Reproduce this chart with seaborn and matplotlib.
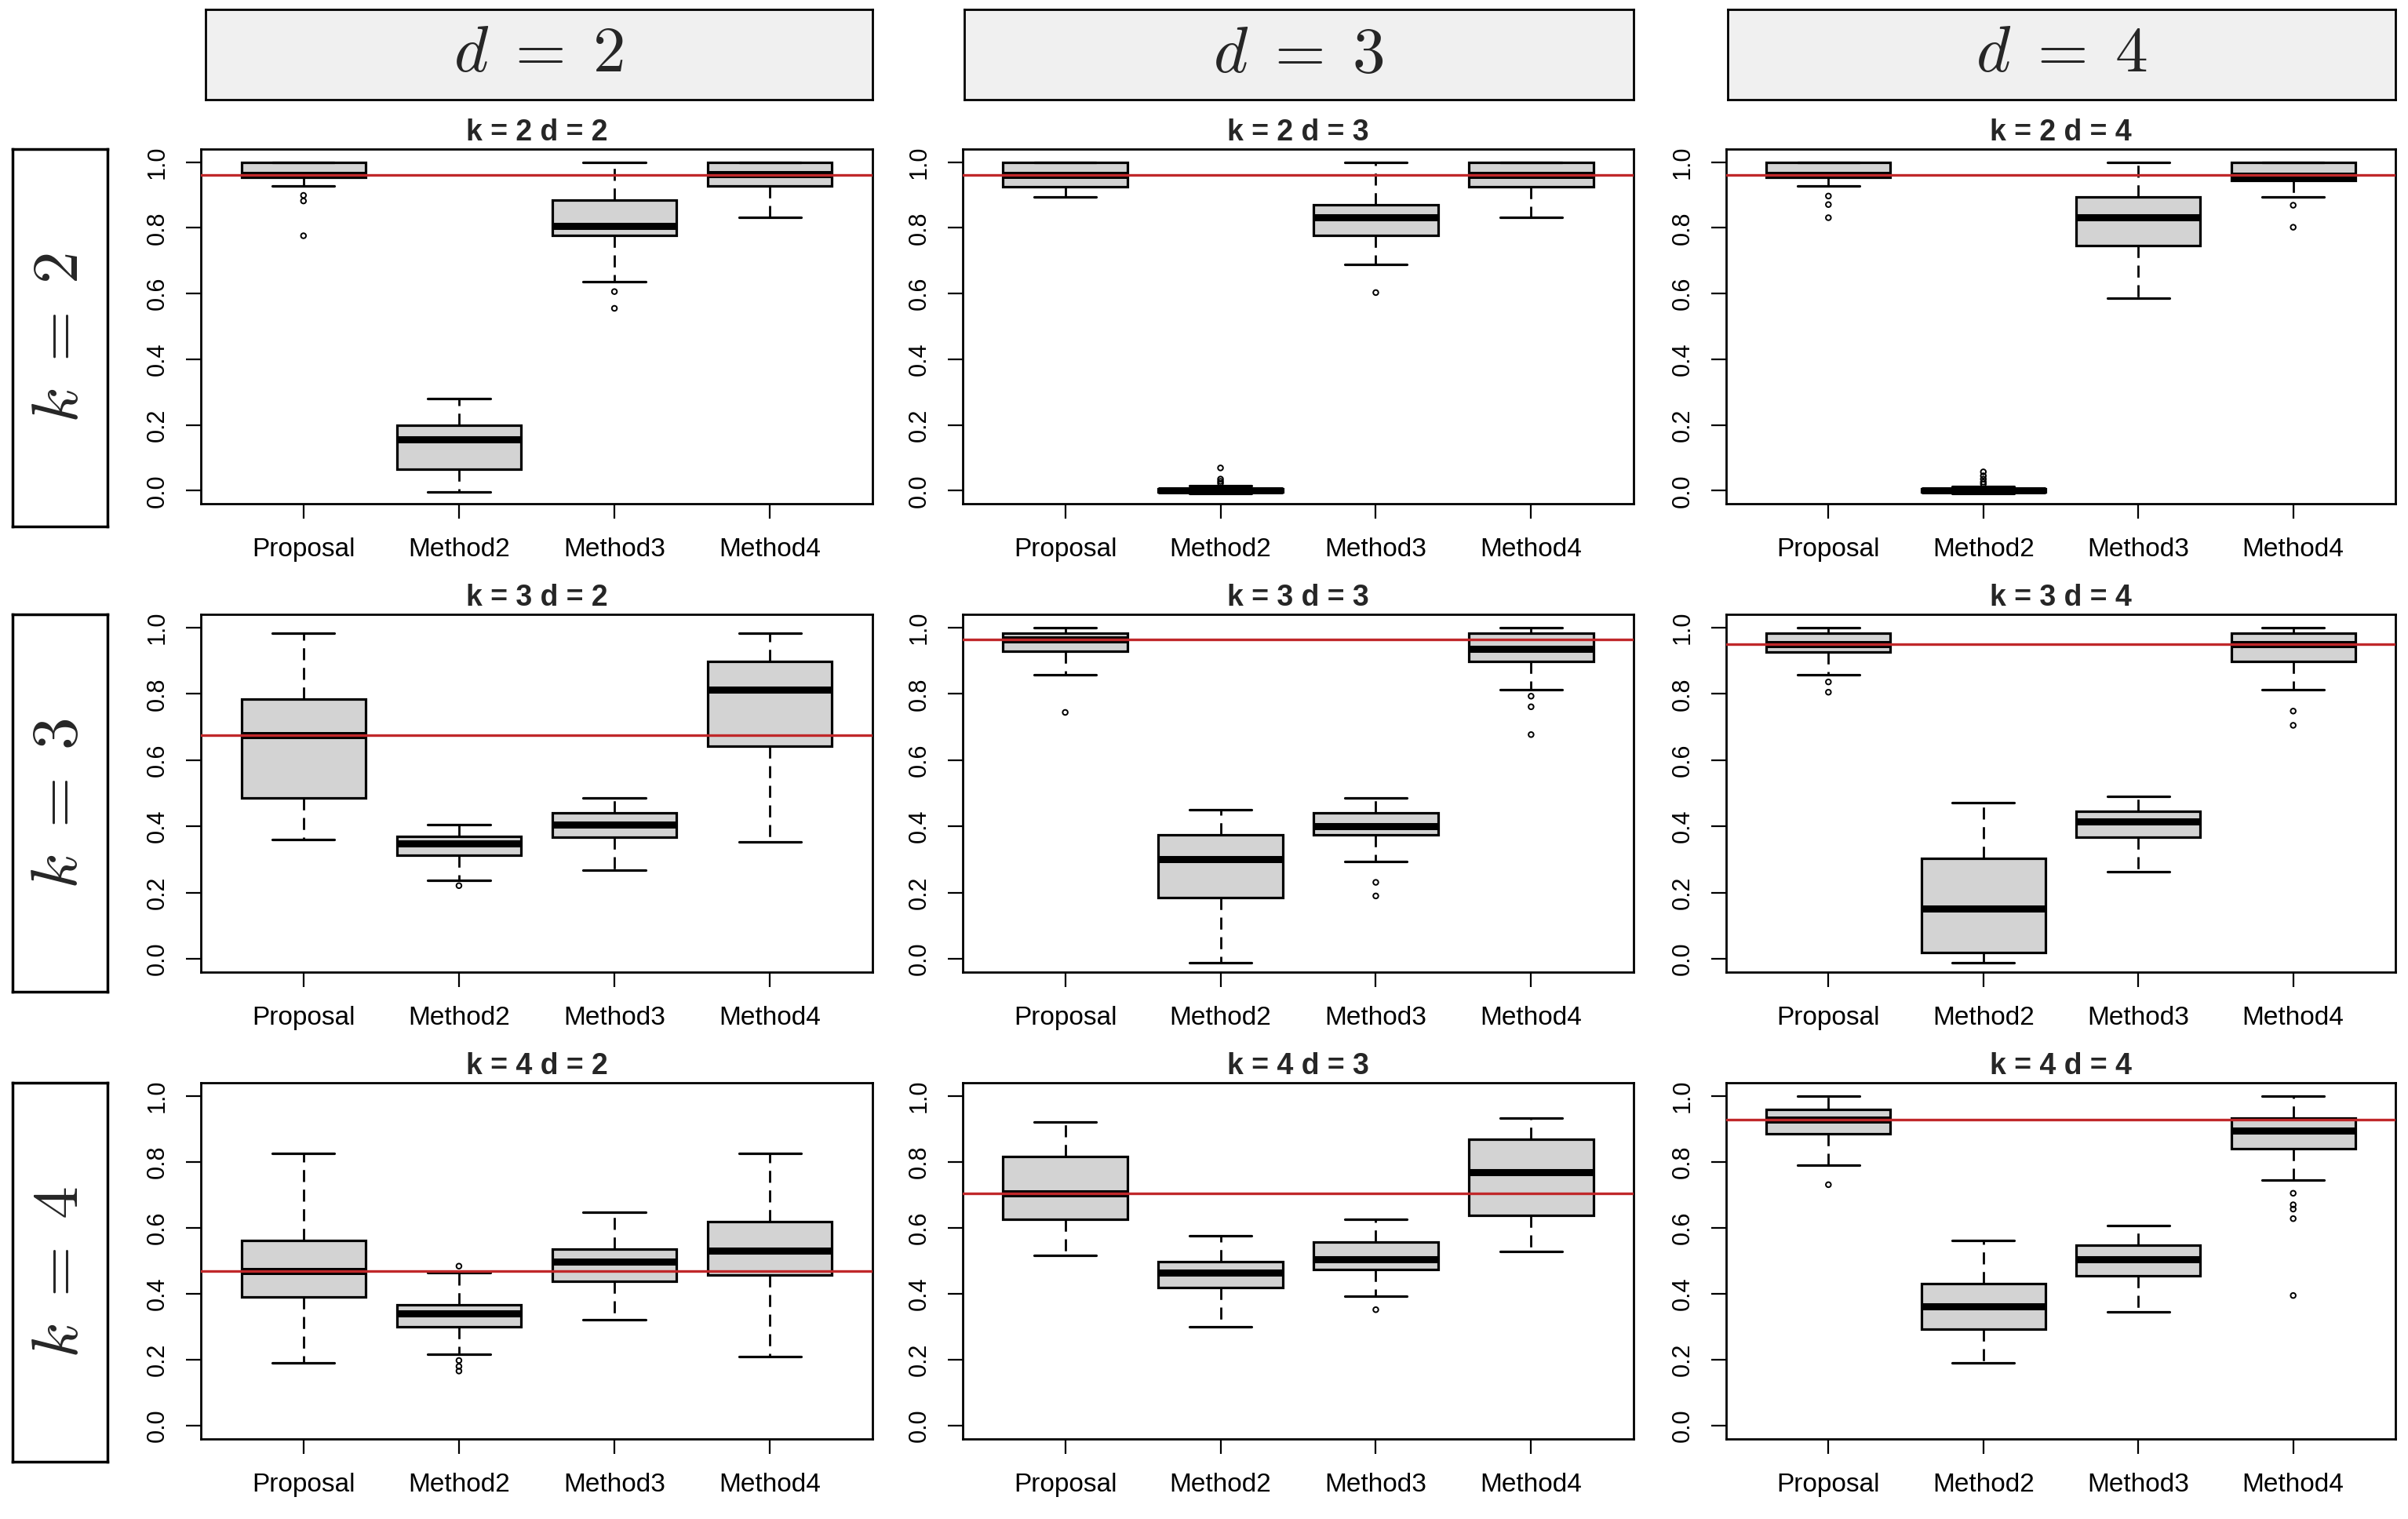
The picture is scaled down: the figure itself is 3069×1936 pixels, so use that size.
import numpy as np
import pandas as pd
import matplotlib
matplotlib.use("Agg")
import matplotlib.pyplot as plt
import seaborn as sns

# ---------------- data ----------------
METHODS = ["Proposal", "Method2", "Method3", "Method4"]
K_VALUES = [2, 3, 4]
D_VALUES = [2, 3, 4]
Y_TICKS = [0.0, 0.2, 0.4, 0.6, 0.8, 1.0]

# panel order: (k2,d2) (k2,d3) (k2,d4) (k3,d2) (k3,d3) (k3,d4) (k4,d2) (k4,d3) (k4,d4)
WHISKER_LO = [
    [0.928, -0.005, 0.636, 0.831],
    [0.895, -0.008, 0.688, 0.831],
    [0.928, -0.008, 0.585, 0.895],
    [0.361, 0.237, 0.269, 0.353],
    [0.857, -0.011, 0.295, 0.812],
    [0.857, -0.011, 0.262, 0.812],
    [0.191, 0.216, 0.321, 0.210],
    [0.516, 0.301, 0.393, 0.528],
    [0.790, 0.191, 0.346, 0.745],
]
Q1 = [
    [0.953, 0.064, 0.778, 0.928],
    [0.926, -0.005, 0.778, 0.926],
    [0.953, -0.005, 0.746, 0.945],
    [0.485, 0.314, 0.368, 0.641],
    [0.929, 0.184, 0.374, 0.897],
    [0.927, 0.020, 0.368, 0.897],
    [0.391, 0.300, 0.437, 0.457],
    [0.627, 0.419, 0.475, 0.639],
    [0.886, 0.293, 0.455, 0.841],
]
MEDIAN = [
    [0.961, 0.156, 0.806, 0.963],
    [0.960, 0.000, 0.831, 0.960],
    [0.960, 0.000, 0.831, 0.958],
    [0.675, 0.349, 0.406, 0.812],
    [0.964, 0.302, 0.400, 0.936],
    [0.950, 0.152, 0.415, 0.950],
    [0.470, 0.341, 0.498, 0.530],
    [0.705, 0.464, 0.504, 0.770],
    [0.929, 0.361, 0.504, 0.895],
]
Q3 = [
    [1.000, 0.200, 0.884, 1.000],
    [1.000, 0.006, 0.871, 1.000],
    [1.000, 0.005, 0.895, 1.000],
    [0.785, 0.369, 0.440, 0.897],
    [0.983, 0.374, 0.440, 0.983],
    [0.983, 0.303, 0.446, 0.983],
    [0.561, 0.366, 0.536, 0.620],
    [0.816, 0.497, 0.556, 0.868],
    [0.959, 0.430, 0.548, 0.934],
]
WHISKER_HI = [
    [1.000, 0.279, 1.000, 1.000],
    [1.000, 0.014, 1.000, 1.000],
    [1.000, 0.012, 1.000, 1.000],
    [0.983, 0.406, 0.485, 0.983],
    [1.000, 0.451, 0.485, 1.000],
    [1.000, 0.472, 0.491, 1.000],
    [0.825, 0.464, 0.648, 0.825],
    [0.920, 0.575, 0.627, 0.934],
    [1.000, 0.563, 0.607, 1.000],
]
OUTLIERS = [
    [[0.899, 0.882, 0.776], [], [0.606, 0.555], []],
    [[], [0.022, 0.028, 0.035, 0.069], [0.603], []],
    [[0.897, 0.871, 0.831], [0.020, 0.026, 0.035, 0.045, 0.057], [], [0.869, 0.802]],
    [[], [0.221], [], []],
    [[0.744], [], [0.231, 0.190], [0.793, 0.761, 0.677]],
    [[0.836, 0.805], [], [], [0.748, 0.705]],
    [[], [0.484, 0.198, 0.180, 0.166], [], []],
    [[], [], [0.352], []],
    [[0.731], [], [], [0.705, 0.670, 0.657, 0.628, 0.395]],
]

# ---------------- style ----------------
sns.set_style("ticks")
plt.rcParams["font.family"] = ["Liberation Sans", "DejaVu Sans"]
plt.rcParams["mathtext.fontset"] = "cm"
plt.rcParams["lines.scale_dashes"] = False

W, H = 3069, 1936
fig = plt.figure(figsize=(W / 100, H / 100), dpi=100)
fig.patch.set_facecolor("white")

COL_X = [(256, 1112), (1227, 2082), (2200, 3053)]
ROW_Y = [(190, 642), (783, 1239), (1380, 1834)]
HEAD_Y = (12, 127)
HEAD_X = [(262, 1112), (1229, 2082), (2202, 3053)]
ROWLAB_X = (16, 137)
ROWLAB_Y = [(190, 671), (783, 1264), (1380, 1863)]


def frac(x0, x1, y0, y1):
    return [x0 / W, 1 - y1 / H, (x1 - x0) / W, (y1 - y0) / H]


for r, k in enumerate(K_VALUES):
    for c, d in enumerate(D_VALUES):
        p = r * 3 + c
        ax = fig.add_axes(frac(*COL_X[c], *ROW_Y[r]))
        stats = np.column_stack([WHISKER_LO[p], Q1[p], MEDIAN[p], Q3[p], WHISKER_HI[p]])
        df = pd.DataFrame({"method": np.repeat(METHODS, 5), "value": stats.ravel()})
        sns.boxplot(
            data=df, x="method", y="value", order=METHODS, ax=ax,
            whis=(0, 100), showfliers=False, width=0.8,
            color="#D3D3D3", linecolor="black", linewidth=2.3,
            medianprops=dict(linewidth=6.5, color="black", solid_capstyle="butt"),
            whiskerprops=dict(linestyle=(0, (11, 7)), linewidth=2, color="black"),
            capprops=dict(linewidth=2.3, color="black"),
        )
        ox = [i for i in range(len(METHODS)) for _ in OUTLIERS[p][i]]
        oy = [v for i in range(len(METHODS)) for v in OUTLIERS[p][i]]
        if oy:
            sns.scatterplot(x=ox, y=oy, ax=ax, marker="o", s=22, color="none",
                            edgecolor="black", linewidth=1.4, legend=False, zorder=4)
        ax.axhline(MEDIAN[p][0], color="#C0282A", lw=2.4, zorder=6)

        ax.set_xlim(-0.66, 3.66)
        ax.set_ylim(-0.04, 1.04)
        ax.set_xticks(range(len(METHODS)))
        ax.set_xticklabels(METHODS, fontsize=24)
        ax.set_yticks(Y_TICKS)
        ax.set_yticklabels([f"{v:.1f}" for v in Y_TICKS], fontsize=22, rotation=90, va="center")
        ax.set_xlabel("")
        ax.set_ylabel("")
        ax.tick_params(axis="both", direction="out", length=14, width=1.6, pad=15, colors="black")
        ax.tick_params(axis="x", pad=17)
        for s in ax.spines.values():
            s.set_visible(True)
            s.set_linewidth(2)
            s.set_color("black")
        ax.set_title(f"k = {k} d = {d}", fontsize=27, fontweight="bold", pad=8)

# column headers
for c, d in enumerate(D_VALUES):
    hx = fig.add_axes(frac(*HEAD_X[c], *HEAD_Y))
    hx.set_facecolor("#F0F0F0")
    hx.set_xticks([]); hx.set_yticks([])
    for s in hx.spines.values():
        s.set_linewidth(2); s.set_color("black")
    hx.text(0.5, 0.5, rf"$d \;=\; {d}$", fontsize=60, ha="center", va="center",
            transform=hx.transAxes)

# row labels
for r, k in enumerate(K_VALUES):
    rx = fig.add_axes(frac(*ROWLAB_X, *ROWLAB_Y[r]))
    rx.set_facecolor("white")
    rx.set_xticks([]); rx.set_yticks([])
    for s in rx.spines.values():
        s.set_linewidth(2.5); s.set_color("black")
    rx.text(0.5, 0.5, rf"$k \;=\; {k}$", fontsize=60, ha="center", va="center",
            rotation=90, transform=rx.transAxes)

fig.savefig("out.png", dpi=100, facecolor="white")
